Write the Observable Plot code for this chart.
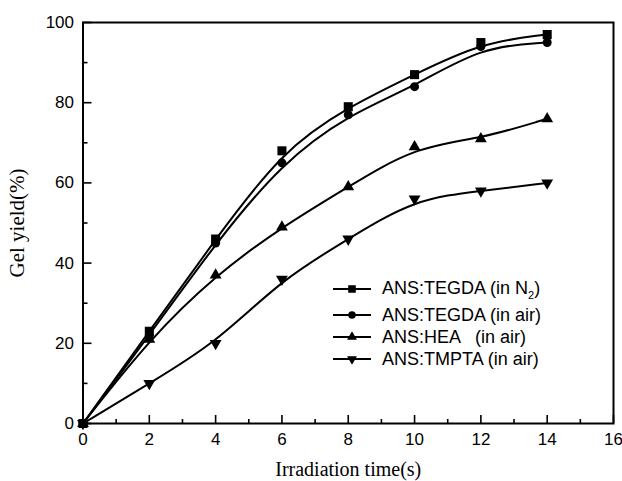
<!DOCTYPE html>
<html>
<head>
<meta charset="utf-8">
<script src="https://cdn.jsdelivr.net/npm/d3@7"></script>
<script src="https://cdn.jsdelivr.net/npm/@observablehq/plot@0.6"></script>
<style>
  body { margin: 0; background: #fff; }
  #wrap { position: relative; width: 622px; height: 481px; }
  #legend { position: absolute; left: 331px; top: 274px; font-family: "Liberation Sans", Arial, sans-serif; font-size: 18px; color: #000; }
  #legend .row { display: flex; align-items: center; white-space: pre; }
  #legend svg { margin-right: 11px; }
</style>
</head>
<body>
<div id="wrap"><div id="legend"></div></div>
<script>
// ---- data ----
const times = [0, 2, 4, 6, 8, 10, 12, 14];
const tegdaN2 = [0, 23, 46, 68, 79, 87, 95, 97];
const tegdaAir = [0, 22, 45, 65, 77, 84, 94, 95];
const hea = [0, 21, 37, 49, 59, 69, 71, 76];
const tmpta = [0, 10, 20, 36, 46, 56, 58, 60];
const seriesNames = ["ANS:TEGDA (in N2)", "ANS:TEGDA (in air)", "ANS:HEA   (in air)", "ANS:TMPTA (in air)"];
const xMajor = [0, 2, 4, 6, 8, 10, 12, 14, 16];
const xMinor = [1, 3, 5, 7, 9, 11, 13, 15];
const yMajor = [0, 20, 40, 60, 80, 100];
const yMinor = [10, 30, 50, 70, 90];

const triangleDown = {
  draw(context, size) {
    const y = -Math.sqrt(size / (Math.sqrt(3) * 3));
    context.moveTo(0, -y * 2);
    context.lineTo(-Math.sqrt(3) * y, y);
    context.lineTo(Math.sqrt(3) * y, y);
    context.closePath();
  }
};
const symbols = ["square", "circle", "triangle", triangleDown];
const values = [tegdaN2, tegdaAir, hea, tmpta];
const radii = [5.1, 4.5, 4.4, 4.4];

const rows = [];
values.forEach((vals, si) => {
  times.forEach((t, i) => rows.push({series: seriesNames[si], si, x: t, y: vals[i]}));
});

const W = 622, H = 481;
const mL = 82.5, mR = 9, mT = 22, mB = 58;

const sans = "Liberation Sans, Arial, sans-serif";
const serif = "Liberation Serif, Times New Roman, serif";
const blank = () => "";

const marks = [
  // inward ticks
  Plot.axisX({ticks: xMajor, tickSize: -8, tickFormat: blank, label: null, strokeWidth: 1.6}),
  Plot.axisX({ticks: xMinor, tickSize: -4, tickFormat: blank, label: null, strokeWidth: 1.6}),
  Plot.axisY({ticks: yMajor, tickSize: -9, tickFormat: blank, label: null, strokeWidth: 1.6}),
  Plot.axisY({ticks: yMinor, tickSize: -5, tickFormat: blank, label: null, strokeWidth: 1.6}),
  Plot.frame({stroke: "#000", strokeWidth: 2}),
  // tick labels
  Plot.axisX({ticks: xMajor, tickSize: 0, tickPadding: 9, fontSize: 17, fontFamily: sans, label: null}),
  Plot.axisY({ticks: yMajor, tickSize: 0, tickPadding: 9, fontSize: 17, fontFamily: sans, label: null}),
  // axis titles
  Plot.axisX({ticks: [], tickSize: 0, label: "Irradiation time(s)", labelAnchor: "center", labelArrow: "none", labelOffset: 52, fontSize: 20, fontFamily: serif}),
  Plot.axisY({ticks: [], tickSize: 0, label: "Gel yield(%)", labelAnchor: "center", labelArrow: "none", labelOffset: 74, fontSize: 21, fontFamily: serif})
];
values.forEach((vals, si) => {
  const d = rows.filter(r => r.si === si);
  marks.push(Plot.line(d, {x: "x", y: "y", curve: "basis", stroke: "#000", strokeWidth: 2}));
  marks.push(Plot.dot(d, {x: "x", y: "y", symbol: () => symbols[si], r: radii[si], fill: "#000", stroke: "none"}));
});

const chart = Plot.plot({
  width: W, height: H,
  marginLeft: mL, marginRight: mR, marginTop: mT, marginBottom: mB,
  x: {domain: [0, 16]},
  y: {domain: [0, 100]},
  symbol: {type: "identity"},
  style: {background: "#fff", color: "#000"},
  marks
});
document.getElementById("wrap").prepend(chart);

// legend
const rowHeights = [30, 22, 22, 22];
const legend = d3.select("#legend");
seriesNames.forEach((name, si) => {
  const row = legend.append("div").attr("class", "row").style("height", rowHeights[si] + "px");
  const s = row.append("svg").attr("width", 40).attr("height", 14);
  s.append("line").attr("x1", 2).attr("x2", 40).attr("y1", 7).attr("y2", 7).attr("stroke", "#000").attr("stroke-width", 2);
  const sym = si === 3 ? triangleDown : {square: d3.symbolSquare, circle: d3.symbolCircle, triangle: d3.symbolTriangle}[symbols[si]];
  s.append("path").attr("transform", "translate(21,7)").attr("d", d3.symbol(sym, Math.PI * radii[si] * radii[si] * 0.7)()).attr("fill", "#000");
  const label = row.append("span");
  if (si === 0) {
    label.text("ANS:TEGDA (in N");
    label.append("sub").style("font-size", "11px").text("2");
    label.append("span").text(")");
  } else {
    label.text(name);
  }
});
</script>
</body>
</html>
